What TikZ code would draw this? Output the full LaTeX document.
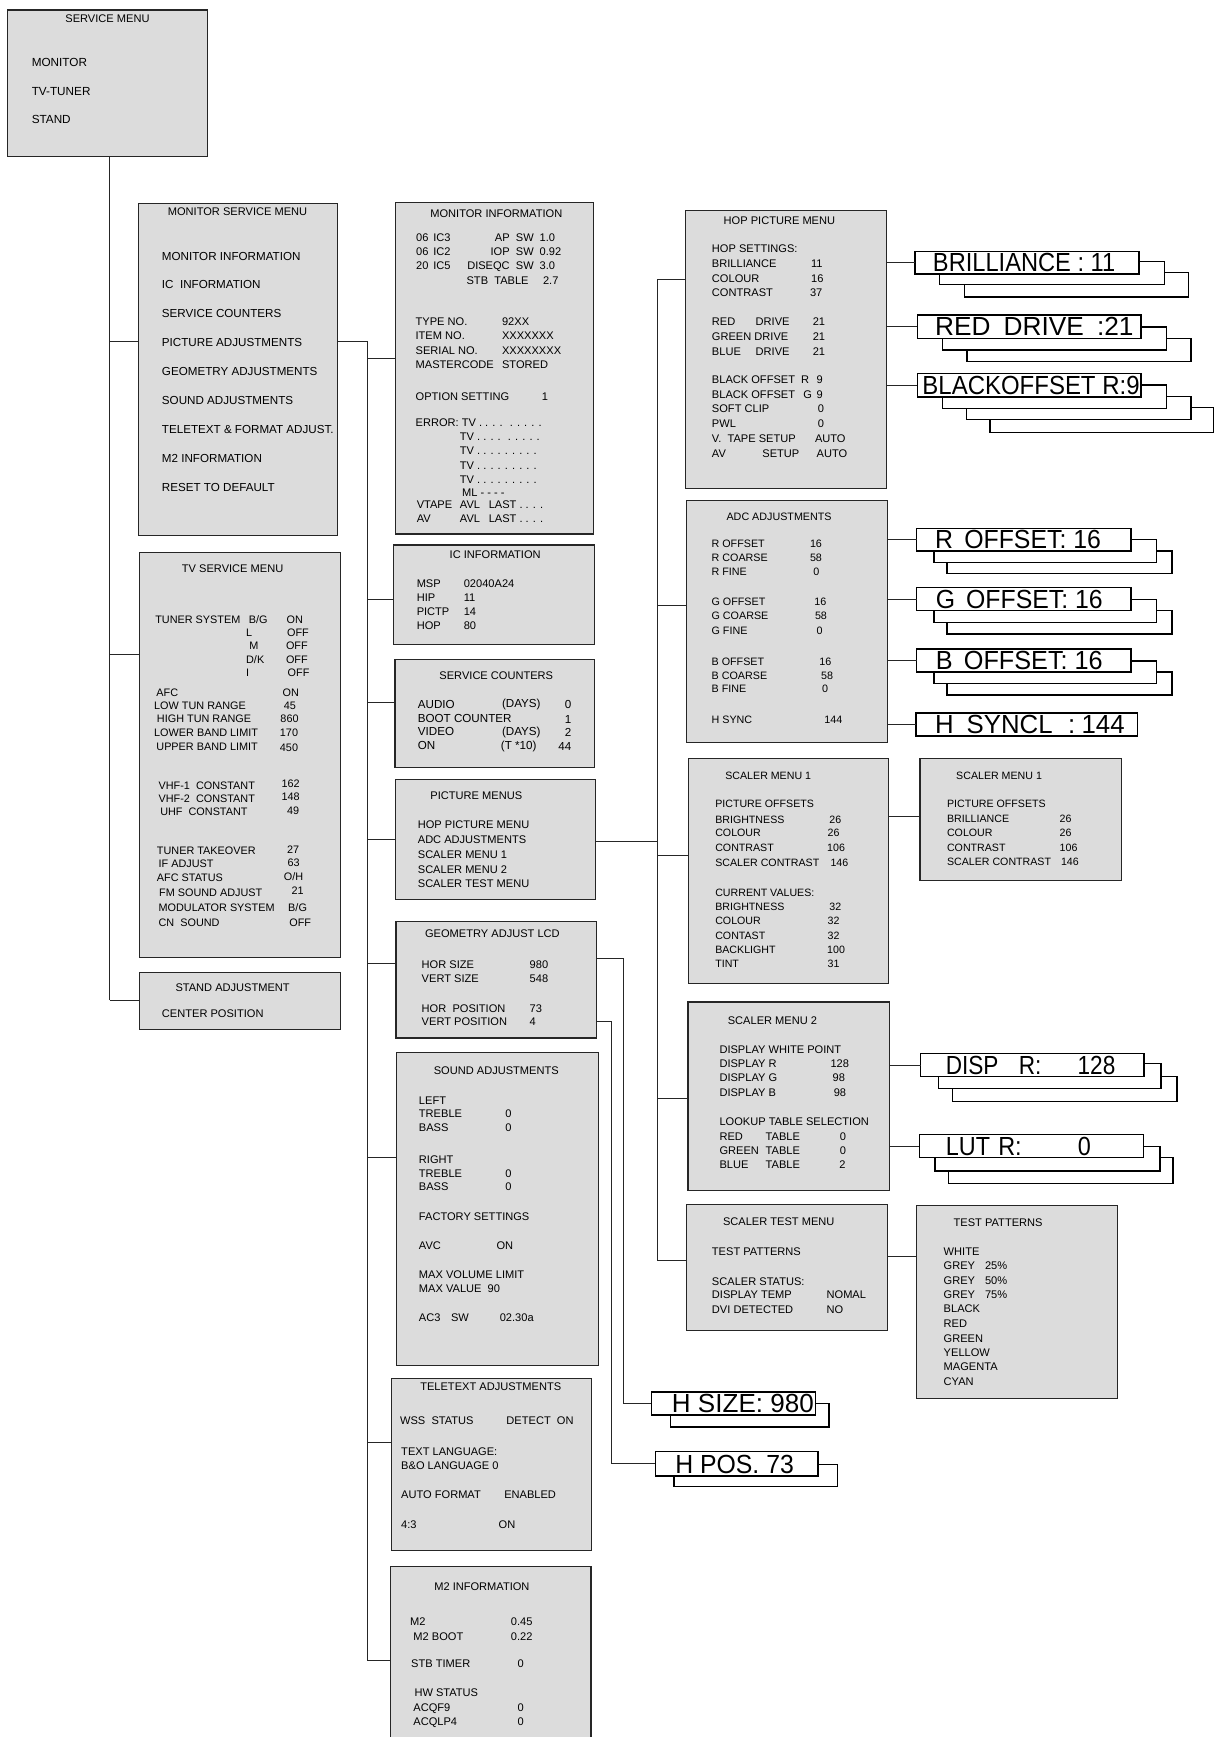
\documentclass[tikz,border=0pt]{standalone}
\usepackage{fontspec}
\setmainfont{Liberation Sans}
\usepackage{graphicx}
\definecolor{boxg}{RGB}{220,220,220}
\newcounter{tn}
\def\tsz{10}
\tikzset{
  mbox/.style={draw=black!85, fill=boxg, line width=1.05pt, inner sep=0pt, outer sep=0pt, anchor=north west},
  tagf/.style={draw=black, fill=white, line width=1.3pt, inner sep=0pt, outer sep=0pt, anchor=north west},
  conn/.style={draw=black!85, line width=0.9pt},
  txt/.style={inner sep=0pt, font=\fontsize{\tsz}{\tsz}\selectfont, yshift={-0.358*\tsz pt}},
  bigtxt/.style={inner sep=0pt, anchor=base west, yshift=-8.25pt},
}
\newcommand\MBox[5]{\node[mbox, minimum width={#4-#2}, minimum height={#5-#3}] (#1) at (#2,#3) {};}
\newcommand\TBox[5]{\node[tagf, minimum width={#4-#2}, minimum height={#5-#3}] (#1) at (#2,#3) {};}
\newcommand\TXl[3]{\stepcounter{tn}\node[txt, anchor=base west] (n\arabic{tn}) at (#1,#2) {#3};}
\newcommand\TXr[3]{\stepcounter{tn}\node[txt, anchor=base east] (n\arabic{tn}) at (#1,#2) {#3};}
\newcommand\TXc[3]{\stepcounter{tn}\node[txt, anchor=base] (n\arabic{tn}) at (#1,#2) {#3};}
\newcommand\BTxt[5]{\node[bigtxt] (#1) at (#2,#3) {\resizebox{#4pt}{16.5pt}{\fontsize{23}{23}\selectfont #5}};}
\begin{document}
\begin{tikzpicture}[x=1pt,y=-1pt]
\useasboundingbox (0,0) rectangle (1097,1568);
\fill[white] (0,0) rectangle (1097,1568);
\clip (0,0) rectangle (1097,1568);

% ---------------- boxes ----------------
\MBox{svc}{7}{9}{187.5}{141}
\MBox{msm}{125}{184}{305}{483.5}
\MBox{tv}{126}{499}{307}{864}
\MBox{std}{126}{878}{307}{929}
\MBox{mi}{357}{183}{536}{482}
\MBox{ic}{355.5}{492}{536.5}{582}
\MBox{sc}{356.5}{595}{536.5}{693}
\MBox{pm}{357}{704}{537.5}{812}
\MBox{geo}{357.5}{832}{538.5}{937}
\MBox{snd}{358}{950}{540}{1233}
\MBox{tt}{353.5}{1244}{534}{1400}
\MBox{mtwo}{352.5}{1414}{533.5}{1590}
\MBox{hop}{619}{190}{800}{441}
\MBox{adc}{620}{451.5}{801.5}{670}
\MBox{scone}{621.5}{685}{802}{888}
\MBox{sconer}{830.5}{685}{1012}{795}
\MBox{sctwo}{621}{904.5}{803}{1074.5}
\MBox{stm}{619.5}{1087.5}{801}{1201}
\MBox{tp}{827.5}{1088}{1009}{1262.5}

% ---------------- trunk connectors ----------------
\coordinate (T0) at (99,141);
\coordinate (Tm) at (99,308.6);
\coordinate (Tt) at (99,591);
\coordinate (Ts) at (99,903);
\draw[conn] (T0) -- (Ts);
\draw[conn] (Tm) -- (Tm -| msm.west);
\draw[conn] (Tt) -- (Tt -| tv.west);
\draw[conn] (Ts) -- (Ts -| std.west);

\coordinate (L0) at (331.6,308.6);
\coordinate (L1) at (331.6,324);
\coordinate (L2) at (331.6,541);
\coordinate (L3) at (331.6,634);
\coordinate (L4) at (331.6,758);
\coordinate (L5) at (331.6,870);
\coordinate (L6) at (331.6,1045);
\coordinate (L7) at (331.6,1302);
\coordinate (L8) at (331.6,1499);
\draw[conn] (L0 -| msm.east) -- (L0) -- (L8);
\draw[conn] (L1) -- (L1 -| mi.west);
\draw[conn] (L2) -- (L2 -| ic.west);
\draw[conn] (L3) -- (L3 -| sc.west);
\draw[conn] (L4) -- (L4 -| pm.west);
\draw[conn] (L5) -- (L5 -| geo.west);
\draw[conn] (L6) -- (L6 -| snd.west);
\draw[conn] (L7) -- (L7 -| tt.west);
\draw[conn] (L8) -- (L8 -| mtwo.west);

\coordinate (R1) at (593.5,252);
\coordinate (R2) at (593.5,547);
\coordinate (Rp) at (593.5,760);
\coordinate (R3) at (593.5,772);
\coordinate (R4) at (593.5,992);
\coordinate (R5) at (593.5,1138);
\draw[conn] (R1) -- (R5);
\draw[conn] (R1) -- (R1 -| hop.west);
\draw[conn] (R2) -- (R2 -| adc.west);
\draw[conn] (Rp -| pm.east) -- (Rp);
\draw[conn] (R3) -- (R3 -| scone.west);
\draw[conn] (R4) -- (R4 -| sctwo.west);
\draw[conn] (R5) -- (R5 -| stm.west);

% geometry to H SIZE / H POS
\coordinate (G1) at (563,865);
\coordinate (G1b) at (563,1267);
\coordinate (G2) at (552,922);
\coordinate (G2b) at (552,1321.5);

% ---------------- tag stacks ----------------
\TBox{brlc}{870.5}{246}{1073}{268}
\TBox{brlb}{848}{236}{1051}{257}
\TBox{brl}{826}{227}{1028}{247.5}
\BTxt{brlt}{842}{237.25}{164.5}{BRILLIANCE : 11}

\TBox{redc}{873}{305.5}{1075}{326.5}
\TBox{redb}{851}{295}{1053}{316}
\TBox{red}{828}{284.5}{1030}{305.5}
\BTxt{redt}{844}{295}{179}{RED\hspace{0.5em}DRIVE\hspace{0.5em}:21}

\TBox{blkd}{893.5}{368}{1095.5}{390.5}
\TBox{blkc}{872.5}{358}{1075}{378.5}
\TBox{blkb}{851}{347.5}{1053}{368.5}
\TBox{blk}{828}{337}{1030}{358.5}
\BTxt{blkt}{832.5}{347.75}{196}{BLACKOFFSET R:9}

\TBox{rofc}{855}{497.5}{1058}{517.5}
\TBox{rofb}{843}{487}{1044}{508}
\TBox{rof}{827.5}{477}{1021}{497.5}
\BTxt{roft}{844}{487.25}{149.6}{R\hspace{0.45em}OFFSET: 16}

\TBox{gofc}{855}{551}{1058}{572.5}
\TBox{gofb}{843}{541}{1044}{562}
\TBox{gof}{827.5}{530.5}{1021}{551}
\BTxt{goft}{844.5}{540.75}{150.7}{G\hspace{0.45em}OFFSET: 16}

\TBox{bofc}{855}{606.5}{1058}{627.5}
\TBox{bofb}{843}{596.5}{1044}{617}
\TBox{bof}{827.5}{586}{1021}{606.5}
\BTxt{boft}{844.5}{596.25}{150.7}{B\hspace{0.45em}OFFSET: 16}

\TBox{hsy}{827}{643.5}{1027}{664.5}
\BTxt{hsyt}{844}{654}{171}{H\hspace{0.5em}SYNCL\hspace{0.6em}:\hspace{0.25em}144}

\TBox{dspc}{860}{972}{1062.5}{994.5}
\TBox{dspb}{847}{960}{1048}{982.5}
\TBox{dsp}{831}{951}{1032.5}{972}
\BTxt{dspt}{853.6}{961.5}{153}{DISP\hspace{0.9em}R:\hspace{1.6em}128}

\TBox{lutc}{856}{1045}{1059}{1068.5}
\TBox{lutb}{844}{1035}{1047}{1057}
\TBox{lut}{830}{1024}{1032}{1045}
\BTxt{lutt}{853.6}{1034.5}{131}{LUT\hspace{0.35em}R:\hspace{2.4em}0}

\TBox{hszb}{605.5}{1267}{748.5}{1288}
\TBox{hsz}{588}{1256.5}{736}{1277.5}
\BTxt{hszt}{606.4}{1267}{128}{H SIZE: 980}

\TBox{hpsb}{608.5}{1322}{756}{1342}
\TBox{hps}{591.5}{1310.5}{738.5}{1332.5}
\BTxt{hpst}{609.4}{1321.5}{107}{H POS. 73}

% ---------------- side connectors ----------------
\draw[conn] (hop.east |- brl.west) -- (brl.west);
\draw[conn] (hop.east |- red.west) -- (red.west);
\draw[conn] (hop.east |- blk.west) -- (blk.west);
\draw[conn] (adc.east |- rof.west) -- (rof.west);
\draw[conn] (adc.east |- gof.west) -- (gof.west);
\draw[conn] (adc.east |- bof.west) -- (bof.west);
\draw[conn] (adc.east |- hsy.west) -- (hsy.west);
\draw[conn] (sctwo.east |- dsp.west) -- (dsp.west);
\draw[conn] (sctwo.east |- lut.west) -- (lut.west);
\coordinate (S1) at (815,737);
\draw[conn] (S1 -| scone.east) -- (S1 -| sconer.west);
\coordinate (S5) at (815,1134);
\draw[conn] (S5 -| stm.east) -- (S5 -| tp.west);
\draw[conn] (G1 -| geo.east) -- (G1) -- (G1b) -- (G1b -| hsz.west);
\draw[conn] (G2 -| geo.east) -- (G2) -- (G2b) -- (G2b -| hps.west);

% ---------------- texts ----------------
\def\tsz{10}
\TXc{97}{17}{SERVICE MENU}
\def\tsz{10.6}
\TXl{28.5}{56}{MONITOR}
\TXl{28.5}{82}{TV-TUNER}
\TXl{28.5}{108}{STAND}

\def\tsz{10}
\TXc{214.4}{191}{MONITOR SERVICE MENU}
\def\tsz{10.5}
\TXl{146}{231}{MONITOR INFORMATION}
\TXl{146}{257}{IC\ \ INFORMATION}
\TXl{146}{283}{SERVICE COUNTERS}
\TXl{146}{309}{PICTURE ADJUSTMENTS}
\TXl{146}{335.5}{GEOMETRY ADJUSTMENTS}
\TXl{146}{361}{SOUND ADJUSTMENTS}
\TXl{146}{387.5}{TELETEXT \& FORMAT ADJUST.}
\TXl{146}{413.5}{M2 INFORMATION}
\TXl{146}{440}{RESET TO DEFAULT}

\def\tsz{10}
\TXc{210}{513}{TV SERVICE MENU}
\def\tsz{9.8}
\TXl{140}{559}{TUNER SYSTEM}\TXl{224.5}{559}{B/G}\TXl{258.5}{559}{ON}
\TXl{222}{571}{L}\TXl{259}{571}{OFF}
\TXl{225}{583}{M}\TXl{258}{583}{OFF}
\TXl{222}{595}{D/K}\TXl{258}{595}{OFF}
\TXl{222}{607}{I}\TXl{259.5}{607}{OFF}
\TXl{141}{625}{AFC}\TXl{255}{625}{ON}
\TXl{139}{637}{LOW TUN RANGE}\TXl{256}{637}{45}
\TXl{141.5}{649}{HIGH TUN RANGE}\TXl{253}{649}{860}
\TXl{139}{661}{LOWER BAND LIMIT}\TXl{252.5}{661.5}{170}
\TXl{141}{674}{UPPER BAND LIMIT}\TXl{252.5}{675}{450}
\TXl{143}{709}{VHF-1\ \ CONSTANT}\TXl{254}{707}{162}
\TXl{143}{721}{VHF-2\ \ CONSTANT}\TXl{254}{719}{148}
\TXl{144.5}{733}{UHF\ \ CONSTANT}\TXl{259}{732}{49}
\TXl{141.5}{768}{TUNER TAKEOVER}\TXl{259}{767}{27}
\TXl{143}{780}{IF ADJUST}\TXl{259.5}{779}{63}
\TXl{141.5}{792}{AFC STATUS}\TXl{256}{791}{O/H}
\TXl{143.5}{806}{FM SOUND ADJUST}\TXl{263}{804}{21}
\TXl{143}{819}{MODULATOR SYSTEM}\TXl{260}{819}{B/G}
\TXl{143}{833}{CN\ \ SOUND}\TXl{261}{833}{OFF}

\def\tsz{10}
\TXc{210}{891}{STAND ADJUSTMENT}
\TXl{146}{915}{CENTER POSITION}

% monitor information
\TXc{448}{193}{MONITOR INFORMATION}
\TXl{375.5}{214}{06}\TXl{391}{214}{IC3}\TXr{482}{214}{AP\ \ SW}\TXl{487}{214}{1.0}
\TXl{375.5}{227}{06}\TXl{391}{227}{IC2}\TXr{482}{227}{IOP\ \ SW}\TXl{487}{227}{0.92}
\TXl{375.5}{240}{20}\TXl{391}{240}{IC5}\TXr{482}{240}{DISEQC\ \ SW}\TXl{487}{240}{3.0}
\TXl{421}{253}{STB\ \ TABLE}\TXl{490}{253}{2.7}
\TXl{375}{290}{TYPE NO.}\TXl{453}{290}{92XX}
\TXl{375}{303}{ITEM NO.}\TXl{453}{303}{XXXXXXX}
\TXl{375}{316}{SERIAL NO.}\TXl{453}{316}{XXXXXXXX}
\TXl{375}{329}{MASTERCODE}\TXl{453}{329}{STORED}
\TXl{375}{358}{OPTION SETTING}\TXl{489}{358}{1}
\TXl{375}{381}{ERROR: TV . . . . \ . . . . .}
\TXl{415}{394}{TV . . . . \ . . . . .}
\TXl{415}{407}{TV . . . . . . . . .}
\TXl{415}{420}{TV . . . . . . . . .}
\TXl{415}{433}{TV . . . . . . . . .}
\TXl{417}{445}{ML - - - -}
\TXl{376}{455}{VTAPE}\TXl{415}{455}{AVL}\TXl{441}{455}{LAST . . . .}
\TXl{376}{468}{AV}\TXl{415}{468}{AVL}\TXl{441}{468}{LAST . . . .}

% IC information
\TXc{447}{501}{IC INFORMATION}
\TXl{376}{527}{MSP}\TXl{418.5}{527}{02040A24}
\TXl{376}{539.5}{HIP}\TXl{418.5}{539.5}{11}
\TXl{376}{552}{PICTP}\TXl{418.5}{552}{14}
\TXl{376}{564.5}{HOP}\TXl{418.5}{564.5}{80}

% service counters
\TXc{448}{610}{SERVICE COUNTERS}
\def\tsz{10.5}
\TXl{377}{636}{AUDIO}\TXl{453}{635}{(DAYS)}\TXr{516}{636}{0}
\TXl{377}{648}{BOOT COUNTER}\TXr{516}{649}{1}
\TXl{377}{660.5}{VIDEO}\TXl{453}{660}{(DAYS)}\TXr{516}{661}{2}
\TXl{377}{673}{ON}\TXl{452}{673}{(T *10)}\TXr{516}{674}{44}

% picture menus
\def\tsz{10}
\TXc{430}{718}{PICTURE MENUS}
\TXl{377}{744}{HOP PICTURE MENU}
\TXl{377}{757.5}{ADC ADJUSTMENTS}
\TXl{377}{771}{SCALER MENU 1}
\TXl{377}{784.5}{SCALER MENU 2}
\TXl{377}{798}{SCALER TEST MENU}

% geometry
\TXc{444.5}{843}{GEOMETRY ADJUST LCD}
\TXl{380.5}{870.5}{HOR SIZE}\TXl{478}{870.5}{980}
\TXl{380.5}{883.5}{VERT SIZE}\TXl{478}{883.5}{548}
\TXl{380.5}{910}{HOR\ \ POSITION}\TXl{478}{910}{73}
\TXl{380.5}{922}{VERT POSITION}\TXl{478}{922}{4}

% sound
\TXc{448}{966}{SOUND ADJUSTMENTS}
\TXl{378}{993}{LEFT}
\TXl{378}{1005.5}{TREBLE}\TXl{456}{1005.5}{0}
\TXl{378}{1018}{BASS}\TXl{456}{1018}{0}
\TXl{378}{1046.5}{RIGHT}
\TXl{378}{1059}{TREBLE}\TXl{456}{1059}{0}
\TXl{378}{1071.5}{BASS}\TXl{456}{1071.5}{0}
\TXl{378}{1098}{FACTORY SETTINGS}
\TXl{378}{1124.5}{AVC}\TXl{448}{1124.5}{ON}
\TXl{378}{1150.5}{MAX VOLUME LIMIT}
\TXl{378}{1163}{MAX VALUE\ \ 90}
\TXl{378}{1189}{AC3}\TXl{407}{1189}{SW}\TXl{451}{1189}{02.30a}

% teletext
\TXc{443}{1252}{TELETEXT ADJUSTMENTS}
\TXl{361}{1282}{WSS\ \ STATUS}\TXl{457}{1282}{DETECT\ \ ON}
\TXl{362}{1310}{TEXT LANGUAGE:}
\TXl{362}{1323}{B\&O LANGUAGE\ 0}
\TXl{362}{1349}{AUTO FORMAT}\TXl{455}{1349}{ENABLED}
\TXl{362}{1376}{4:3}\TXl{450}{1376}{ON}

% M2
\TXc{435}{1432}{M2 INFORMATION}
\TXl{370}{1464}{M2}\TXl{461}{1464}{0.45}
\TXl{373}{1477}{M2 BOOT}\TXl{461}{1477}{0.22}
\TXl{371}{1502}{STB TIMER}\TXl{467}{1502}{0}
\TXl{374}{1528}{HW STATUS}
\TXl{373}{1541}{ACQF9}\TXl{467}{1541}{0}
\TXl{373}{1554}{ACQLP4}\TXl{467}{1554}{0}

% HOP picture menu
\TXc{703.6}{199}{HOP PICTURE MENU}
\TXl{642.5}{224.5}{HOP SETTINGS:}
\TXl{642.5}{237.5}{BRILLIANCE}\TXl{732}{237.5}{11}
\TXl{642.5}{251}{COLOUR}\TXl{732}{251}{16}
\TXl{642.5}{264.5}{CONTRAST}\TXl{731}{264.5}{37}
\TXl{642.5}{290.5}{RED}\TXl{682}{290.5}{DRIVE}\TXl{733.5}{290.5}{21}
\TXl{642.5}{303.5}{GREEN DRIVE}\TXl{733.5}{303.5}{21}
\TXl{642.5}{317}{BLUE}\TXl{682}{317}{DRIVE}\TXl{733.5}{317}{21}
\TXl{642.5}{343}{BLACK OFFSET}\TXl{723}{343}{R}\TXl{737}{343}{9}
\TXl{642.5}{356}{BLACK OFFSET}\TXl{725}{356}{G}\TXl{737}{356}{9}
\TXl{642.5}{369}{SOFT CLIP}\TXl{738}{369}{0}
\TXl{642.5}{382}{PWL}\TXl{738}{382}{0}
\TXl{642.5}{395.5}{V.\ \ TAPE SETUP}\TXl{735.5}{395.5}{AUTO}
\TXl{642.5}{409}{AV}\TXl{688}{409}{SETUP}\TXl{737}{409}{AUTO}

% ADC
\def\tsz{9.7}
\TXc{703.3}{466}{ADC ADJUSTMENTS}
\TXl{642.2}{491}{R OFFSET}\TXl{731}{491}{16}
\TXl{642.2}{503.5}{R COARSE}\TXl{731}{503.5}{58}
\TXl{642.2}{516}{R FINE}\TXl{734}{516}{0}
\TXl{642.2}{543}{G OFFSET}\TXl{735}{543}{16}
\TXl{642.2}{556}{G COARSE}\TXl{735.5}{556}{58}
\TXl{642.2}{569}{G FINE}\TXl{737}{569}{0}
\TXl{642.2}{597}{B OFFSET}\TXl{739.5}{597}{16}
\TXl{642.2}{609.5}{B COARSE}\TXl{741}{609.5}{58}
\TXl{642.2}{622}{B FINE}\TXl{742}{622}{0}
\TXl{642.2}{650}{H SYNC}\TXl{744}{650}{144}

% scaler menu 1 (left)
\def\tsz{9.6}
\TXl{654.6}{700}{SCALER MENU 1}
\TXl{645.5}{725.5}{PICTURE OFFSETS}
\TXl{645.5}{739.5}{BRIGHTNESS}\TXl{748.5}{739.5}{26}
\TXl{645.5}{752}{COLOUR}\TXl{747}{752}{26}
\TXl{645.5}{765.5}{CONTRAST}\TXl{746.5}{765.5}{106}
\TXl{645.5}{779}{SCALER CONTRAST}\TXl{749.5}{779}{146}
\TXl{645.5}{806}{CURRENT VALUES:}
\TXl{645.5}{818.5}{BRIGHTNESS}\TXl{748.5}{818.5}{32}
\TXl{645.5}{831.5}{COLOUR}\TXl{747}{831.5}{32}
\TXl{645.5}{844.5}{CONTAST}\TXl{747}{844.5}{32}
\TXl{645.5}{857}{BACKLIGHT}\TXl{746.5}{857}{100}
\TXl{645.5}{870}{TINT}\TXl{747}{870}{31}

% scaler menu 1 (right)
\TXl{863}{700}{SCALER MENU 1}
\TXl{854.7}{725.5}{PICTURE OFFSETS}
\TXl{854.7}{739}{BRILLIANCE}\TXl{956.4}{739}{26}
\TXl{854.7}{752}{COLOUR}\TXl{956.4}{752}{26}
\TXl{854.7}{765}{CONTRAST}\TXl{956.4}{765}{106}
\TXl{854.7}{778}{SCALER CONTRAST}\TXl{957.6}{778}{146}

% scaler menu 2
\def\tsz{10}
\TXl{656.8}{921}{SCALER MENU 2}
\TXl{649.3}{947}{DISPLAY WHITE POINT}
\TXl{649.3}{960}{DISPLAY R}\TXl{749.5}{960}{128}
\TXl{649.3}{973}{DISPLAY G}\TXl{751.5}{973}{98}
\TXl{649.3}{986}{DISPLAY B}\TXl{752.5}{986}{98}
\TXl{649.3}{1012.5}{LOOKUP TABLE SELECTION}
\TXl{649.3}{1025.5}{RED}\TXl{691}{1025.5}{TABLE}\TXl{758}{1025.5}{0}
\TXl{649.3}{1038.5}{GREEN}\TXl{691}{1038.5}{TABLE}\TXl{758}{1038.5}{0}
\TXl{649.3}{1051.5}{BLUE}\TXl{691}{1051.5}{TABLE}\TXl{757.5}{1051.5}{2}

% scaler test menu
\TXl{652.5}{1103}{SCALER TEST MENU}
\TXl{642.5}{1130}{TEST PATTERNS}
\TXl{642.5}{1156.5}{SCALER STATUS:}
\TXl{642.5}{1169}{DISPLAY TEMP}\TXl{746}{1169}{NOMAL}
\TXl{642.5}{1182}{DVI DETECTED}\TXl{746}{1182}{NO}

% test patterns
\TXl{860.7}{1103.5}{TEST PATTERNS}
\TXl{851.7}{1129.5}{WHITE}
\TXl{851.7}{1142.5}{GREY}\TXl{889}{1142.5}{25\%}
\TXl{851.7}{1155.5}{GREY}\TXl{889}{1155.5}{50\%}
\TXl{851.7}{1168.5}{GREY}\TXl{889}{1168.5}{75\%}
\TXl{851.7}{1181.5}{BLACK}
\TXl{851.7}{1194.5}{RED}
\TXl{851.7}{1208}{GREEN}
\TXl{851.7}{1221}{YELLOW}
\TXl{851.7}{1234}{MAGENTA}
\TXl{851.7}{1247}{CYAN}
\end{tikzpicture}
\end{document}
